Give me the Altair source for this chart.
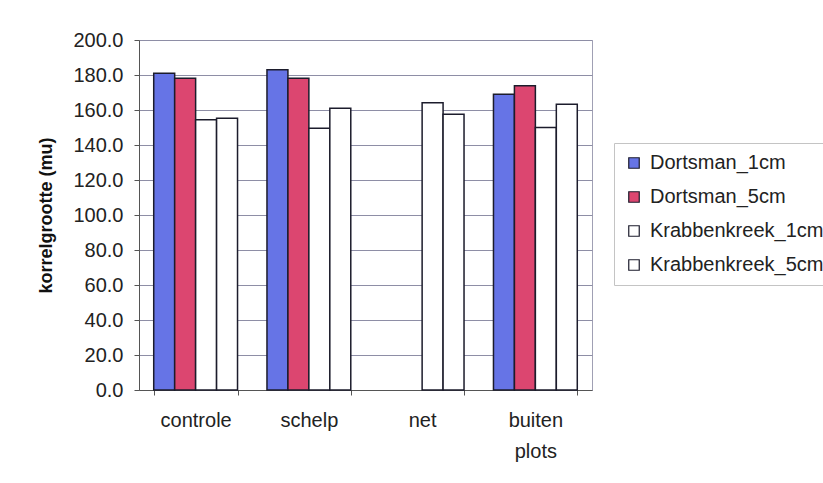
import altair as alt
import pandas as pd

# Grain size per treatment plot and sample series
groups = ["controle", "schelp", "net", "buiten plots"]
series = ["Dortsman_1cm", "Dortsman_5cm", "Krabbenkreek_1cm", "Krabbenkreek_5cm"]
dortsman_1cm = [181.0, 183.0, None, 169.0]
dortsman_5cm = [178.2, 178.2, None, 173.8]
krabbenkreek_1cm = [154.4, 149.6, 164.2, 150.0]
krabbenkreek_5cm = [155.3, 161.0, 157.6, 163.3]
colors = ["#6674e6", "#dc4670", "#ffffff", "#ffffff"]

rows = []
for name, vals in zip(series, [dortsman_1cm, dortsman_5cm, krabbenkreek_1cm, krabbenkreek_5cm]):
    for g, v in zip(groups, vals):
        if v is not None:
            rows.append({"groep": g, "reeks": name, "waarde": v})
df = pd.DataFrame(rows)

FONT = "Liberation Sans"

chart = alt.Chart(df).mark_bar(
    stroke="#1c1c2c", strokeWidth=1.5
).encode(
    x=alt.X(
        "groep:N",
        sort=groups,
        scale=alt.Scale(paddingInner=0.26, paddingOuter=0.13),
        axis=alt.Axis(
            title=None, labelAngle=0, labelFontSize=20, labelColor="#222",
            labelPadding=15, tickBand="extent", ticks=True, tickSize=5,
            tickColor="#555", domainColor="#555", grid=False,
            labelExpr="split(datum.label, ' ')", labelLineHeight=31,
        ),
    ),
    xOffset=alt.XOffset("reeks:N", sort=series, scale=alt.Scale(domain=series, paddingInner=0, paddingOuter=0)),
    y=alt.Y(
        "waarde:Q",
        scale=alt.Scale(domain=[0, 200], nice=False),
        axis=alt.Axis(
            title="korrelgrootte (mu)", titleFontSize=18, titleFontWeight="bold",
            titleColor="#111", titlePadding=17, values=list(range(0, 201, 20)),
            format=".1f", labelFontSize=20, labelColor="#222", labelPadding=11,
            tickSize=5, tickColor="#555", domainColor="#555",
            gridColor="#8e8ea6", gridWidth=1,
        ),
    ),
    fill=alt.Fill(
        "reeks:N",
        sort=series,
        scale=alt.Scale(domain=series, range=colors),
        legend=alt.Legend(
            title=None, orient="none", legendX=475, legendY=103,
            labelFontSize=20, labelColor="#222", symbolType="square",
            symbolSize=110, symbolStrokeColor="#1c1c2c", symbolStrokeWidth=1.2,
            rowPadding=14, labelOffset=6, padding=10, labelLimit=300,
            strokeColor="#c4c4c4", fillColor="#ffffff",
        ),
    ),
).properties(
    width=453, height=350,
    padding={"left": 139, "top": 40, "right": 231, "bottom": 93},
    autosize=alt.AutoSizeParams(type="none"),
).configure(
    font=FONT,
    background="#ffffff",
).configure_view(
    stroke="#a0a0b4", strokeWidth=1,
)

chart.save("out.html", embed_options={"renderer": "svg", "actions": False})
